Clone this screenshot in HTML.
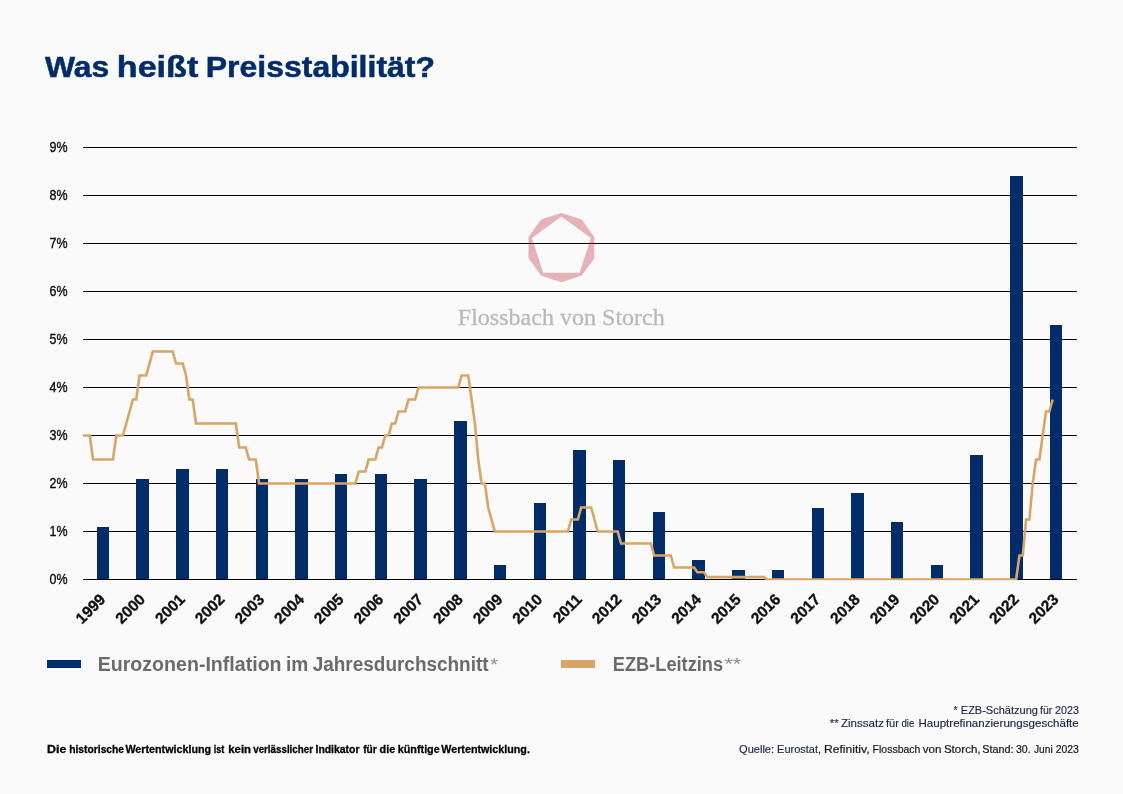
<!DOCTYPE html>
<html lang="de"><head><meta charset="utf-8"><title>Was heißt Preisstabilität?</title>
<style>
html,body{margin:0;padding:0;background:#fafafa;}
body{will-change:transform;width:1123px;height:794px;overflow:hidden;font-family:"Liberation Sans",sans-serif;}
svg{display:block;font-family:"Liberation Sans",sans-serif;}
.serif{font-family:"Liberation Serif",serif;}
</style></head><body>
<svg width="1123" height="794" viewBox="0 0 1123 794">
<rect width="1123" height="794" fill="#fafafa"/>
<g font-size="30" font-weight="bold" fill="#002d6a" stroke="#002d6a" stroke-width="0.5">
<text x="45" y="77.3" textLength="64.3" lengthAdjust="spacingAndGlyphs">Was</text>
<text x="116.8" y="77.3" textLength="81.5" lengthAdjust="spacingAndGlyphs">heißt</text>
<text x="205.8" y="77.3" textLength="229.2" lengthAdjust="spacingAndGlyphs">Preisstabilität?</text>
</g>
<g stroke="#000" stroke-width="1" shape-rendering="crispEdges">
<line x1="83.0" y1="531.5" x2="1077.0" y2="531.5"/>
<line x1="83.0" y1="483.5" x2="1077.0" y2="483.5"/>
<line x1="83.0" y1="435.5" x2="1077.0" y2="435.5"/>
<line x1="83.0" y1="387.5" x2="1077.0" y2="387.5"/>
<line x1="83.0" y1="339.5" x2="1077.0" y2="339.5"/>
<line x1="83.0" y1="291.5" x2="1077.0" y2="291.5"/>
<line x1="83.0" y1="243.5" x2="1077.0" y2="243.5"/>
<line x1="83.0" y1="195.5" x2="1077.0" y2="195.5"/>
<line x1="83.0" y1="147.5" x2="1077.0" y2="147.5"/>
</g>
<g font-size="14.6" fill="#0a0a0a" stroke="#0a0a0a" stroke-width="0.35">
<text x="49.6" y="583.9" textLength="18" lengthAdjust="spacingAndGlyphs">0%</text>
<text x="49.6" y="535.9" textLength="18" lengthAdjust="spacingAndGlyphs">1%</text>
<text x="49.6" y="487.9" textLength="18" lengthAdjust="spacingAndGlyphs">2%</text>
<text x="49.6" y="439.9" textLength="18" lengthAdjust="spacingAndGlyphs">3%</text>
<text x="49.6" y="391.9" textLength="18" lengthAdjust="spacingAndGlyphs">4%</text>
<text x="49.6" y="343.9" textLength="18" lengthAdjust="spacingAndGlyphs">5%</text>
<text x="49.6" y="295.9" textLength="18" lengthAdjust="spacingAndGlyphs">6%</text>
<text x="49.6" y="247.9" textLength="18" lengthAdjust="spacingAndGlyphs">7%</text>
<text x="49.6" y="199.9" textLength="18" lengthAdjust="spacingAndGlyphs">8%</text>
<text x="49.6" y="151.9" textLength="18" lengthAdjust="spacingAndGlyphs">9%</text>
</g>
<g fill="#002d6a" shape-rendering="crispEdges">
<rect x="97" y="527" width="12" height="52"/>
<rect x="136" y="479" width="13" height="100"/>
<rect x="176" y="469" width="13" height="110"/>
<rect x="216" y="469" width="12" height="110"/>
<rect x="256" y="479" width="12" height="100"/>
<rect x="295" y="479" width="13" height="100"/>
<rect x="335" y="474" width="12" height="105"/>
<rect x="375" y="474" width="12" height="105"/>
<rect x="414" y="479" width="13" height="100"/>
<rect x="454" y="421" width="13" height="158"/>
<rect x="494" y="565" width="12" height="14"/>
<rect x="534" y="503" width="12" height="76"/>
<rect x="573" y="450" width="13" height="129"/>
<rect x="613" y="460" width="12" height="119"/>
<rect x="653" y="512" width="12" height="67"/>
<rect x="692" y="560" width="13" height="19"/>
<rect x="732" y="570" width="13" height="9"/>
<rect x="772" y="570" width="12" height="9"/>
<rect x="812" y="508" width="12" height="71"/>
<rect x="851" y="493" width="13" height="86"/>
<rect x="891" y="522" width="12" height="57"/>
<rect x="931" y="565" width="12" height="14"/>
<rect x="970" y="455" width="13" height="124"/>
<rect x="1010" y="176" width="13" height="403"/>
<rect x="1050" y="325" width="12" height="254"/>
</g>
<g stroke="#000" stroke-width="1" shape-rendering="crispEdges">
<line x1="83.0" y1="579.5" x2="1077.0" y2="579.5"/>
</g>
<g opacity="0.36">
<path d="M561.40,213.00 L581.74,219.61 L594.31,236.91 L594.31,258.29 L581.74,275.59 L561.40,282.20 L541.06,275.59 L528.49,258.29 L528.49,236.91 L541.06,219.61Z M561.40,216.60 L590.88,238.02 L579.62,272.68 L543.18,272.68 L531.92,238.02Z" fill="#c0323c" fill-rule="evenodd"/>
</g>
<text class="serif" x="457.8" y="324.7" font-size="23.5" fill="#b9b9b9" stroke="#b9b9b9" stroke-width="0.3" textLength="207" lengthAdjust="spacingAndGlyphs">Flossbach von Storch</text>
<clipPath id="pc"><rect x="83" y="100" width="994" height="480.3"/></clipPath>
<path clip-path="url(#pc)" d="M83.10,435.50 L86.42,435.50 L89.74,435.50 L93.06,459.50 L96.38,459.50 L99.70,459.50 L103.02,459.50 L106.34,459.50 L109.66,459.50 L112.98,459.50 L116.30,435.50 L119.62,435.50 L122.94,435.50 L126.27,423.50 L129.59,411.50 L132.91,399.50 L136.23,399.50 L139.55,375.50 L142.87,375.50 L146.19,375.50 L149.51,363.50 L152.83,351.50 L156.15,351.50 L159.47,351.50 L162.79,351.50 L166.11,351.50 L169.43,351.50 L172.75,351.50 L176.07,363.50 L179.39,363.50 L182.71,363.50 L186.03,375.50 L189.35,399.50 L192.67,399.50 L195.99,423.50 L199.31,423.50 L202.63,423.50 L205.95,423.50 L209.28,423.50 L212.60,423.50 L215.92,423.50 L219.24,423.50 L222.56,423.50 L225.88,423.50 L229.20,423.50 L232.52,423.50 L235.84,423.50 L239.16,447.50 L242.48,447.50 L245.80,447.50 L249.12,459.50 L252.44,459.50 L255.76,459.50 L259.08,483.50 L262.40,483.50 L265.72,483.50 L269.04,483.50 L272.36,483.50 L275.68,483.50 L279.00,483.50 L282.32,483.50 L285.64,483.50 L288.96,483.50 L292.29,483.50 L295.61,483.50 L298.93,483.50 L302.25,483.50 L305.57,483.50 L308.89,483.50 L312.21,483.50 L315.53,483.50 L318.85,483.50 L322.17,483.50 L325.49,483.50 L328.81,483.50 L332.13,483.50 L335.45,483.50 L338.77,483.50 L342.09,483.50 L345.41,483.50 L348.73,483.50 L352.05,483.50 L355.37,483.50 L358.69,471.50 L362.01,471.50 L365.33,471.50 L368.65,459.50 L371.97,459.50 L375.30,459.50 L378.62,447.50 L381.94,447.50 L385.26,435.50 L388.58,435.50 L391.90,423.50 L395.22,423.50 L398.54,411.50 L401.86,411.50 L405.18,411.50 L408.50,399.50 L411.82,399.50 L415.14,399.50 L418.46,387.50 L421.78,387.50 L425.10,387.50 L428.42,387.50 L431.74,387.50 L435.06,387.50 L438.38,387.50 L441.70,387.50 L445.02,387.50 L448.34,387.50 L451.66,387.50 L454.98,387.50 L458.31,387.50 L461.63,375.50 L464.95,375.50 L468.27,375.50 L471.59,399.50 L474.91,423.50 L478.23,459.50 L481.55,483.50 L484.87,483.50 L488.19,507.50 L491.51,519.50 L494.83,531.50 L498.15,531.50 L501.47,531.50 L504.79,531.50 L508.11,531.50 L511.43,531.50 L514.75,531.50 L518.07,531.50 L521.39,531.50 L524.71,531.50 L528.03,531.50 L531.35,531.50 L534.67,531.50 L537.99,531.50 L541.32,531.50 L544.64,531.50 L547.96,531.50 L551.28,531.50 L554.60,531.50 L557.92,531.50 L561.24,531.50 L564.56,531.50 L567.88,531.50 L571.20,519.50 L574.52,519.50 L577.84,519.50 L581.16,507.50 L584.48,507.50 L587.80,507.50 L591.12,507.50 L594.44,519.50 L597.76,531.50 L601.08,531.50 L604.40,531.50 L607.72,531.50 L611.04,531.50 L614.36,531.50 L617.68,531.50 L621.00,543.50 L624.33,543.50 L627.65,543.50 L630.97,543.50 L634.29,543.50 L637.61,543.50 L640.93,543.50 L644.25,543.50 L647.57,543.50 L650.89,543.50 L654.21,555.50 L657.53,555.50 L660.85,555.50 L664.17,555.50 L667.49,555.50 L670.81,555.50 L674.13,567.50 L677.45,567.50 L680.77,567.50 L684.09,567.50 L687.41,567.50 L690.73,567.50 L694.05,567.50 L697.37,572.30 L700.69,572.30 L704.01,572.30 L707.34,577.10 L710.66,577.10 L713.98,577.10 L717.30,577.10 L720.62,577.10 L723.94,577.10 L727.26,577.10 L730.58,577.10 L733.90,577.10 L737.22,577.10 L740.54,577.10 L743.86,577.10 L747.18,577.10 L750.50,577.10 L753.82,577.10 L757.14,577.10 L760.46,577.10 L763.78,577.10 L767.10,579.50 L770.42,579.50 L773.74,579.50 L777.06,579.50 L780.38,579.50 L783.70,579.50 L787.02,579.50 L790.35,579.50 L793.67,579.50 L796.99,579.50 L800.31,579.50 L803.63,579.50 L806.95,579.50 L810.27,579.50 L813.59,579.50 L816.91,579.50 L820.23,579.50 L823.55,579.50 L826.87,579.50 L830.19,579.50 L833.51,579.50 L836.83,579.50 L840.15,579.50 L843.47,579.50 L846.79,579.50 L850.11,579.50 L853.43,579.50 L856.75,579.50 L860.07,579.50 L863.39,579.50 L866.71,579.50 L870.03,579.50 L873.36,579.50 L876.68,579.50 L880.00,579.50 L883.32,579.50 L886.64,579.50 L889.96,579.50 L893.28,579.50 L896.60,579.50 L899.92,579.50 L903.24,579.50 L906.56,579.50 L909.88,579.50 L913.20,579.50 L916.52,579.50 L919.84,579.50 L923.16,579.50 L926.48,579.50 L929.80,579.50 L933.12,579.50 L936.44,579.50 L939.76,579.50 L943.08,579.50 L946.40,579.50 L949.72,579.50 L953.04,579.50 L956.37,579.50 L959.69,579.50 L963.01,579.50 L966.33,579.50 L969.65,579.50 L972.97,579.50 L976.29,579.50 L979.61,579.50 L982.93,579.50 L986.25,579.50 L989.57,579.50 L992.89,579.50 L996.21,579.50 L999.53,579.50 L1002.85,579.50 L1006.17,579.50 L1009.49,579.50 L1012.81,579.50 L1016.13,579.50 L1019.45,555.50 L1022.77,555.50 L1026.09,519.50 L1029.41,519.50 L1032.73,483.50 L1036.05,459.50 L1039.38,459.50 L1042.70,435.50 L1046.02,411.50 L1049.34,411.50 L1052.66,399.50" fill="none" stroke="#d9a565" stroke-width="2.6" stroke-linejoin="miter" stroke-miterlimit="10" stroke-linecap="butt"/>
<g font-size="15.5" font-weight="bold" fill="#111" stroke="#111" stroke-width="0.35">
<text x="106.45" y="600.30" text-anchor="end" transform="rotate(-45 106.45 600.30)" >1999</text>
<text x="146.16" y="600.30" text-anchor="end" transform="rotate(-45 146.16 600.30)" >2000</text>
<text x="185.88" y="600.30" text-anchor="end" transform="rotate(-45 185.88 600.30)" >2001</text>
<text x="225.59" y="600.30" text-anchor="end" transform="rotate(-45 225.59 600.30)" >2002</text>
<text x="265.29" y="600.30" text-anchor="end" transform="rotate(-45 265.29 600.30)" >2003</text>
<text x="305.00" y="600.30" text-anchor="end" transform="rotate(-45 305.00 600.30)" >2004</text>
<text x="344.72" y="600.30" text-anchor="end" transform="rotate(-45 344.72 600.30)" >2005</text>
<text x="384.42" y="600.30" text-anchor="end" transform="rotate(-45 384.42 600.30)" >2006</text>
<text x="424.13" y="600.30" text-anchor="end" transform="rotate(-45 424.13 600.30)" >2007</text>
<text x="463.85" y="600.30" text-anchor="end" transform="rotate(-45 463.85 600.30)" >2008</text>
<text x="503.55" y="600.30" text-anchor="end" transform="rotate(-45 503.55 600.30)" >2009</text>
<text x="543.26" y="600.30" text-anchor="end" transform="rotate(-45 543.26 600.30)" >2010</text>
<text x="582.98" y="600.30" text-anchor="end" transform="rotate(-45 582.98 600.30)" >2011</text>
<text x="622.69" y="600.30" text-anchor="end" transform="rotate(-45 622.69 600.30)" >2012</text>
<text x="662.39" y="600.30" text-anchor="end" transform="rotate(-45 662.39 600.30)" >2013</text>
<text x="702.11" y="600.30" text-anchor="end" transform="rotate(-45 702.11 600.30)" >2014</text>
<text x="741.82" y="600.30" text-anchor="end" transform="rotate(-45 741.82 600.30)" >2015</text>
<text x="781.53" y="600.30" text-anchor="end" transform="rotate(-45 781.53 600.30)" >2016</text>
<text x="821.24" y="600.30" text-anchor="end" transform="rotate(-45 821.24 600.30)" >2017</text>
<text x="860.95" y="600.30" text-anchor="end" transform="rotate(-45 860.95 600.30)" >2018</text>
<text x="900.66" y="600.30" text-anchor="end" transform="rotate(-45 900.66 600.30)" >2019</text>
<text x="940.37" y="600.30" text-anchor="end" transform="rotate(-45 940.37 600.30)" >2020</text>
<text x="980.08" y="600.30" text-anchor="end" transform="rotate(-45 980.08 600.30)" >2021</text>
<text x="1019.79" y="600.30" text-anchor="end" transform="rotate(-45 1019.79 600.30)" >2022</text>
<text x="1059.49" y="600.30" text-anchor="end" transform="rotate(-45 1059.49 600.30)" >2023</text>
</g>
<rect x="47" y="660" width="34" height="8" fill="#002d6a"/>
<g font-size="19.4" font-weight="bold" fill="#6b6b6b">
<text x="97.7" y="670.5" textLength="183.9" lengthAdjust="spacingAndGlyphs">Eurozonen-Inflation</text>
<text x="286" y="670.5" textLength="22.3" lengthAdjust="spacingAndGlyphs">im</text>
<text x="312.7" y="670.5" textLength="175.9" lengthAdjust="spacingAndGlyphs">Jahresdurchschnitt</text>
</g>
<text x="490.6" y="670.5" font-size="19" fill="#8a8a8a">*</text>
<rect x="561" y="660" width="34" height="8" fill="#d9a565"/>
<text x="612.8" y="670.5" font-size="19.4" font-weight="bold" fill="#6b6b6b" textLength="110.3" lengthAdjust="spacingAndGlyphs">EZB-Leitzins</text>
<text x="724.5" y="669.5" font-size="17" fill="#8a8a8a" textLength="16.5" lengthAdjust="spacingAndGlyphs">**</text>
<g font-size="10.8" fill="#1a2349" stroke="#1a2349" stroke-width="0.15">
<text x="953.6" y="713.7" textLength="4.1" lengthAdjust="spacingAndGlyphs">*</text>
<text x="960.8" y="713.7" textLength="77.1" lengthAdjust="spacingAndGlyphs">EZB-Schätzung</text>
<text x="1040.0" y="713.7" textLength="12.3" lengthAdjust="spacingAndGlyphs">für</text>
<text x="1055.1" y="713.7" textLength="23.8" lengthAdjust="spacingAndGlyphs">2023</text>
<text x="829.8" y="726.5" textLength="9.0" lengthAdjust="spacingAndGlyphs">**</text>
<text x="840.9" y="726.5" textLength="43.1" lengthAdjust="spacingAndGlyphs">Zinssatz</text>
<text x="886.0" y="726.5" textLength="12.9" lengthAdjust="spacingAndGlyphs">für</text>
<text x="901.5" y="726.5" textLength="12.9" lengthAdjust="spacingAndGlyphs">die</text>
<text x="918.4" y="726.5" textLength="160.4" lengthAdjust="spacingAndGlyphs">Hauptrefinanzierungsgeschäfte</text>
<text x="739.1" y="752.9" textLength="35.0" lengthAdjust="spacingAndGlyphs">Quelle:</text>
<text x="777.1" y="752.9" textLength="44.0" lengthAdjust="spacingAndGlyphs">Eurostat,</text>
</g>
<g font-size="10.8" fill="#15151f" stroke="#15151f" stroke-width="0.2">
<text x="824.0" y="752.9" textLength="45.6" lengthAdjust="spacingAndGlyphs">Refinitiv,</text>
<text x="872.6" y="752.9" textLength="47.8" lengthAdjust="spacingAndGlyphs">Flossbach</text>
<text x="922.8" y="752.9" textLength="18.7" lengthAdjust="spacingAndGlyphs">von</text>
<text x="943.9" y="752.9" textLength="36.7" lengthAdjust="spacingAndGlyphs">Storch,</text>
<text x="982.2" y="752.9" textLength="31.4" lengthAdjust="spacingAndGlyphs">Stand:</text>
<text x="1015.9" y="752.9" textLength="14.7" lengthAdjust="spacingAndGlyphs">30.</text>
<text x="1034.0" y="752.9" textLength="18.7" lengthAdjust="spacingAndGlyphs">Juni</text>
<text x="1055.7" y="752.9" textLength="23.1" lengthAdjust="spacingAndGlyphs">2023</text>
</g>
<g font-size="11" font-weight="bold" fill="#000" stroke="#000" stroke-width="0.3">
<text x="47.1" y="753.1" textLength="19.3" lengthAdjust="spacingAndGlyphs">Die</text>
<text x="69.2" y="753.1" textLength="54.9" lengthAdjust="spacingAndGlyphs">historische</text>
<text x="125.4" y="753.1" textLength="85.7" lengthAdjust="spacingAndGlyphs">Wertentwicklung</text>
<text x="213.7" y="753.1" textLength="10.6" lengthAdjust="spacingAndGlyphs">ist</text>
<text x="228.3" y="753.1" textLength="22.7" lengthAdjust="spacingAndGlyphs">kein</text>
<text x="253.2" y="753.1" textLength="59.8" lengthAdjust="spacingAndGlyphs">verlässlicher</text>
<text x="315.5" y="753.1" textLength="44.0" lengthAdjust="spacingAndGlyphs">Indikator</text>
<text x="363.2" y="753.1" textLength="13.6" lengthAdjust="spacingAndGlyphs">für</text>
<text x="379.6" y="753.1" textLength="15.6" lengthAdjust="spacingAndGlyphs">die</text>
<text x="397.8" y="753.1" textLength="41.9" lengthAdjust="spacingAndGlyphs">künftige</text>
<text x="441.3" y="753.1" textLength="88.6" lengthAdjust="spacingAndGlyphs">Wertentwicklung.</text>
</g>
</svg>
</body></html>
